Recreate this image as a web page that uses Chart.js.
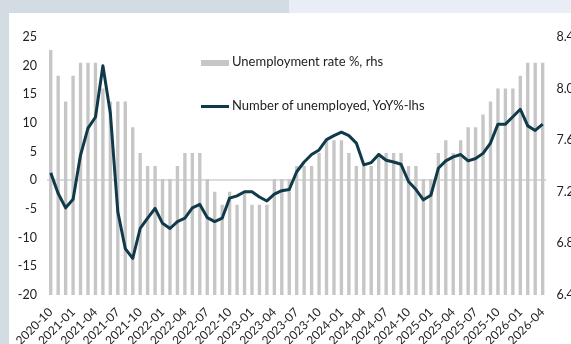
<html>
<head>
<meta charset="UTF-8">
<script src="https://cdn.jsdelivr.net/npm/chart.js@4.4.1/dist/chart.umd.min.js"></script>
<style>
  body { margin: 0; overflow: hidden; background: #fff; font-family: Lato, sans-serif; }
  #topL { position: absolute; left: 0; top: 0; width: 289px; height: 13px; background: #d4dce3; }
  #topR { position: absolute; left: 289px; top: 0; width: 300px; height: 13px; background: #e9edf5; }
  #side { position: absolute; left: 0; top: 0; width: 9px; height: 344px; background: #d4dce3; }
  #wrap { position: absolute; left: 0; top: 0; width: 590px; height: 344px; }
  .leg { position: absolute; left: 201px; font-size: 13px; color: #222; white-space: nowrap; }
  .sw { display: inline-block; width: 28px; vertical-align: middle; margin-right: 3px; }
</style>
</head>
<body>
<div id="topL"></div><div id="topR"></div><div id="side"></div>
<div id="wrap"><canvas id="myChart" width="590" height="344"></canvas></div>
<div id="legend"></div>
<script>
var months = [
  "2020-10","2020-11","2020-12","2021-01","2021-02","2021-03","2021-04","2021-05","2021-06",
  "2021-07","2021-08","2021-09","2021-10","2021-11","2021-12","2022-01","2022-02","2022-03",
  "2022-04","2022-05","2022-06","2022-07","2022-08","2022-09","2022-10","2022-11","2022-12",
  "2023-01","2023-02","2023-03","2023-04","2023-05","2023-06","2023-07","2023-08","2023-09",
  "2023-10","2023-11","2023-12","2024-01","2024-02","2024-03","2024-04","2024-05","2024-06",
  "2024-07","2024-08","2024-09","2024-10","2024-11","2024-12","2025-01","2025-02","2025-03",
  "2025-04","2025-05","2025-06","2025-07","2025-08","2025-09","2025-10","2025-11","2025-12",
  "2026-01","2026-02","2026-03","2026-04"
];

// unemployment rate %, right axis
var rate = [
  8.3,8.1,7.9,8.1,8.2,8.2,8.2,8.0,7.9,7.9,
  7.9,7.7,7.5,7.4,7.4,7.3,7.3,7.4,7.5,7.5,
  7.5,7.3,7.2,7.1,7.2,7.1,7.2,7.1,7.1,7.1,
  7.3,7.3,7.3,7.4,7.4,7.4,7.5,7.6,7.6,7.6,
  7.5,7.4,7.4,7.4,7.5,7.5,7.5,7.5,7.4,7.4,
  7.3,7.3,7.5,7.6,7.5,7.6,7.7,7.7,7.8,7.9,
  8.0,8.0,8.0,8.1,8.2,8.2,8.2
];

// number of unemployed, YoY %, left axis
var unemployedYoY = [
  1.3,-2.3,-4.8,-3.3,4.4,9.1,11.0,20.0,11.7,-5.5,
  -11.9,-13.6,-8.4,-6.6,-4.9,-7.5,-8.4,-7.2,-6.6,-4.8,
  -4.2,-6.5,-7.2,-6.6,-3.1,-2.7,-2.0,-2.0,-2.9,-3.6,
  -2.4,-1.8,-1.6,1.5,3.2,4.5,5.3,7.1,7.8,8.4,
  7.8,6.5,2.7,3.1,4.5,3.5,3.2,2.8,-0.2,-1.6,
  -3.4,-2.6,2.1,3.4,4.1,4.5,3.4,3.8,4.7,6.5,
  9.8,9.8,11.1,12.4,9.5,8.7,9.8
];

var leftTicks = { min: -20, max: 25, step: 5 };
var rightTicks = { min: 6.4, max: 8.4, step: 0.4 };

var barColour = "#c6c6c6";
var lineColour = "#103a4a";
var textColour = "#222";

function initChart()
{
  var ctx = document.getElementById('myChart').getContext('2d');
  chart = new Chart(ctx, {
    type: 'bar',
    data: {
      labels: months,
      datasets: [{
        type: 'line',
        label: "Number of unemployed, YoY%-lhs",
        data: unemployedYoY,
        yAxisID: 'y',
        borderColor: lineColour,
        backgroundColor: lineColour,
        borderWidth: 3,
        pointRadius: 0,
        tension: 0,
        borderJoinStyle: 'round',
        order: 1
      }, {
        type: 'bar',
        label: "Unemployment rate %, rhs",
        data: rate,
        yAxisID: 'y1',
        backgroundColor: barColour,
        barPercentage: 0.45,
        categoryPercentage: 1,
        order: 2
      }]
    },
    options: {
      responsive: false,
      animation: false,
      devicePixelRatio: 1,
      layout: { padding: { top: 37, left: 0, right: 0, bottom: 0 } },
      plugins: { legend: { display: false }, tooltip: { enabled: false } },
      scales: {
        x: {
          grid: { display: false },
          border: { display: false },
          ticks: {
            autoSkip: false,
            maxRotation: 45,
            minRotation: 45,
            padding: 2,
            color: textColour,
            font: { family: 'Lato', size: 12 },
            callback: function(v, i) { return i % 3 === 0 ? months[i] : ''; }
          },
          afterFit: function(s) { s.height = 49; }
        },
        y: {
          position: 'left',
          min: leftTicks.min,
          max: leftTicks.max,
          border: { display: false },
          grid: {
            drawTicks: false,
            lineWidth: 2,
            color: function(c) { return c.tick && c.tick.value === 0 ? '#dcdcdc' : 'rgba(0,0,0,0)'; }
          },
          ticks: {
            stepSize: leftTicks.step,
            padding: 10,
            color: textColour,
            font: { family: 'Lato', size: 12.5 }
          },
          afterFit: function(s) { s.width = 47; }
        },
        y1: {
          position: 'right',
          min: rightTicks.min,
          max: rightTicks.max,
          border: { display: false },
          grid: { display: false, drawTicks: false },
          ticks: {
            stepSize: rightTicks.step,
            padding: 10,
            color: textColour,
            font: { family: 'Lato', size: 12.5 },
            callback: function(v) { return v.toFixed(1); }
          },
          afterFit: function(s) { s.width = 43.6; }
        }
      }
    }
  });

  // legend, built from the dataset labels
  var legend = document.getElementById('legend');
  var bar = chart.data.datasets[1], line = chart.data.datasets[0];
  legend.innerHTML =
    '<div class="leg" style="top:53px"><span class="sw" style="height:6px;background:' + bar.backgroundColor + '"></span>' + bar.label + '</div>' +
    '<div class="leg" style="top:97px"><span class="sw" style="height:3px;background:' + line.borderColor + '"></span>' + line.label + '</div>';
}

window.onload = initChart;
</script>
</body>
</html>
